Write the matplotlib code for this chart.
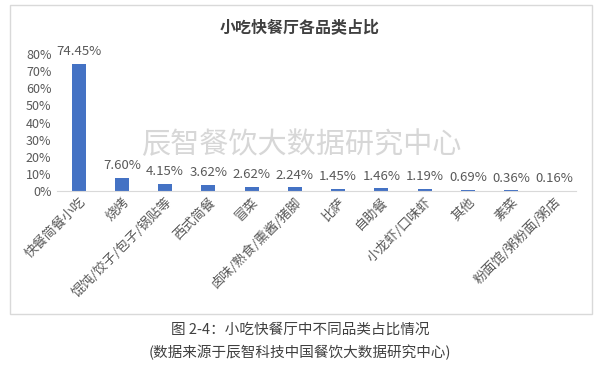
import matplotlib
matplotlib.use("Agg")
import matplotlib.pyplot as plt
from matplotlib.patches import Rectangle

plt.rcParams['font.family'] = ['Noto Sans CJK SC', 'DejaVu Sans']

categories = ["快餐简餐小吃", "烧烤", "馄饨/饺子/包子/锅贴等", "西式简餐", "冒菜",
              "卤味/熟食/熏酱/猪脚", "比萨", "自助餐", "小龙虾/口味虾", "其他",
              "素菜", "粉面馆/粥粉面/粥店"]
# share in percent
values = [74.45, 7.60, 4.15, 3.62, 2.62, 2.24, 1.45, 1.46, 1.19, 0.69, 0.36, 0.16]
yticks = [0, 10, 20, 30, 40, 50, 60, 70, 80]

W, H = 600, 365
fig = plt.figure(figsize=(W / 100, H / 100), dpi=100)
fig.patch.set_facecolor("white")

def fx(px):
    return px / W

def fy(py):
    return 1 - py / H

# chart frame
fig.patches.append(Rectangle((fx(10), fy(314)), fx(582), (309) / H,
                             transform=fig.transFigure, fill=False,
                             edgecolor="#d9d9d9", linewidth=1))

ax = fig.add_axes([fx(57), fy(191), fx(519), (191 - 54) / H])
x = range(len(categories))
ax.bar(x, values, width=0.32, color="#4472C4")
ax.set_xlim(-0.5, len(categories) - 0.5)
ax.set_ylim(0, 80)
ax.set_yticks(yticks)
ax.set_yticklabels([f"{v}%" for v in yticks], color="#595959", fontsize=9)
ax.tick_params(axis="y", length=0, pad=4)
ax.tick_params(axis="x", length=0, pad=3)
ax.set_xticks(list(x))
ax.set_xticklabels(categories, rotation=45, ha="right", rotation_mode="anchor",
                   color="#595959", fontsize=9.5)
for s in ["top", "right", "left"]:
    ax.spines[s].set_visible(False)
ax.spines["bottom"].set_color("#d9d9d9")

for i, v in enumerate(values):
    ax.annotate(f"{v:.2f}%", (i, v), xytext=(0, 4), textcoords="offset points",
                ha="center", va="bottom", color="#595959", fontsize=9.5)

fig.text(0.5, fy(27), "小吃快餐厅各品类占比", ha="center", va="center",
         fontsize=11.5, fontweight="bold", color="#404040")

fig.text(fx(301), fy(145), "辰智餐饮大数据研究中心", ha="center", va="center",
         fontsize=21, color="#d0d0d0", alpha=0.85)

fig.text(0.5, fy(330), "图 2-4：小吃快餐厅中不同品类占比情况", ha="center",
         va="center", fontsize=10.5, color="#404040")
fig.text(0.5, fy(352), "(数据来源于辰智科技中国餐饮大数据研究中心)", ha="center",
         va="center", fontsize=10.5, color="#404040")

fig.savefig("out.png", dpi=100)
